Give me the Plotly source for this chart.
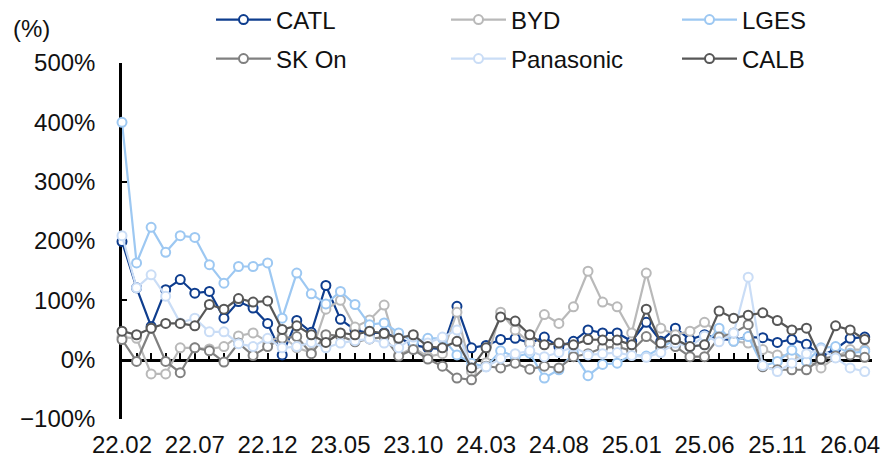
import plotly.graph_objects as go

# monthly, 22.02 .. 26.05
months = []
yy, mm = 22, 2
for _ in range(52):
    months.append(f"{yy:02d}.{mm:02d}")
    mm += 1
    if mm > 12:
        mm = 1
        yy += 1

tick_labels = ["22.02", "22.07", "22.12", "23.05", "23.10", "24.03",
               "24.08", "25.01", "25.06", "25.11", "26.04"]

catl = [199, 121, 56, 118, 135, 112, 115, 70, 98, 87,
        61, 8, 66, 46, 125, 68, 50, 45, 45, 37,
        25, 20, 18, 90, 20, 24, 34, 36, 28, 38,
        22, 31, 50, 45, 45, 31, 63, 31, 53, 34,
        42, 35, 33, 38, 37, 29, 34, 26, 6, 18,
        36, 38]
byd = [38, 36, -24, -24, 20, 20, 18, 22, 40, 45,
       30, 40, 20, 12, 85, 100, 55, 67, 92, 8,
       20, 5, 10, 80, -20, -5, 80, 50, 28, 76,
       61, 89, 149, 97, 89, 45, 146, 53, 42, 48,
       63, 45, 31, 28, 17, 8, 6, 0, -14, 4,
       17, 17]
lges = [400, 163, 223, 181, 209, 206, 160, 129, 157, 157,
        163, 70, 146, 111, 94, 115, 93, 59, 62, 45,
        30, 36, 36, 8, -6, -12, 15, 5, 11, -31,
        -17, 11, -27, -8, -6, 8, 6, 20, 34, 22,
        25, 53, 31, 39, -11, -3, 16, -3, 20, 22,
        11, 14]
skon = [34, -3, 53, -3, -22, 20, 15, -4, 28, 7,
        22, 36, 39, 10, 42, 40, 30, 35, 38, 6,
        17, 1, -11, -31, -34, -11, -14, -6, -16, -11,
        -14, 5, 10, 20, 22, 15, 39, 20, 22, 5,
        5, 38, 45, 59, -12, -17, -17, -17, 1, 6,
        8, 4]
panasonic = [209, 121, 143, 107, 62, 70, 47, 47, 27, 22,
             36, 20, 22, 29, 20, 28, 32, 35, 28, 20,
             38, 28, 38, 50, -13, -12, 2, 10, 15, 5,
             12, 22, 8, 10, 12, 7, 4, 12, 28, 22,
             40, 30, 45, 139, -10, -20, -6, 10, 18, 3,
             -14, -20]
calb = [48, 42, 53, 61, 61, 57, 93, 85, 103, 97,
        99, 51, 57, 42, 29, 45, 42, 48, 44, 36,
        42, 22, 20, 31, -14, 20, 72, 65, 42, 25,
        28, 25, 34, 33, 33, 25, 85, 28, 34, 22,
        25, 82, 70, 75, 79, 66, 50, 53, 1, 57,
        50, 34]

y_ticks = [-100, 0, 100, 200, 300, 400, 500]
y_tick_text = ["\u2212100%", "0%", "100%", "200%", "300%", "400%", "500%"]

series = [
    ("CATL", catl, "#0E3D8E"),
    ("BYD", byd, "#B9B9B9"),
    ("LGES", lges, "#9DC8F2"),
    ("SK On", skon, "#808080"),
    ("Panasonic", panasonic, "#CADDF6"),
    ("CALB", calb, "#575757"),
]

FS = 24
# legend slots in pixels (left of line sample, row centre)
L, T, W, H = 122, 63, 750, 356
slots = [(211, 20), (446, 20), (677, 20), (211, 59), (446, 59), (677, 59)]
legend_ids = ["legend", "legend2", "legend3", "legend4", "legend5", "legend6"]

xs = list(range(len(months)))
tick_pos = [months.index(t) for t in tick_labels]
xr = [0, 51.5]

fig = go.Figure()
# empty trace so the bottom label axis gets drawn
fig.add_trace(go.Scatter(x=[], y=[], showlegend=False, hoverinfo="skip"))

for (name, vals, col), lid in zip(series, legend_ids):
    fig.add_trace(go.Scatter(
        x=xs, y=vals, name=name, mode="lines+markers",
        xaxis="x2", legend=lid, customdata=months, cliponaxis=False,
        hovertemplate="%{customdata}: %{y}%<extra>" + name + "</extra>",
        line=dict(color=col, width=2.2),
        marker=dict(symbol="circle", size=9, color="white",
                    line=dict(color=col, width=2))))

legends = {}
for lid, (px, py) in zip(legend_ids, slots):
    legends[lid] = dict(x=(px - L) / W, y=(T + H - py) / H,
                        xanchor="left", yanchor="middle",
                        bgcolor="rgba(0,0,0,0)", itemwidth=55,
                        font=dict(size=FS, color="#111"))

fig.update_layout(
    width=889, height=457,
    margin=dict(l=L, r=889 - L - W, t=T, b=457 - T - H, autoexpand=False),
    plot_bgcolor="white", paper_bgcolor="white",
    font=dict(family="Liberation Sans, Arial, sans-serif", size=FS, color="#111"),
    xaxis=dict(range=xr, tickvals=tick_pos, ticktext=tick_labels,
               showgrid=False, zeroline=False, showline=False, ticks="",
               ticklabelstandoff=9),
    xaxis2=dict(overlaying="x", anchor="free", position=1 / 6, range=xr,
                tickmode="linear", tick0=0, dtick=1, ticks="inside",
                ticklen=6, tickwidth=1.5, tickcolor="black",
                showline=True, linecolor="black", linewidth=3,
                showticklabels=False, showgrid=False, zeroline=False,
                layer="below traces"),
    yaxis=dict(range=[-100, 500], tickvals=y_ticks, ticktext=y_tick_text,
               ticks="inside", ticklen=5, tickwidth=2, tickcolor="black",
               showline=True, linecolor="black", linewidth=2.5,
               showgrid=False, zeroline=False, ticklabelstandoff=19,
               layer="below traces"),
    showlegend=True,
    **legends,
)

fig.add_annotation(text="(%)", xref="paper", yref="paper",
                   x=(31 - L) / W, y=(T + H - 28) / H,
                   xanchor="center", yanchor="middle", showarrow=False,
                   font=dict(size=FS, color="#111"))

fig.write_html("out.html", config={"displayModeBar": False},
               post_script="document.body.style.margin='0';")
